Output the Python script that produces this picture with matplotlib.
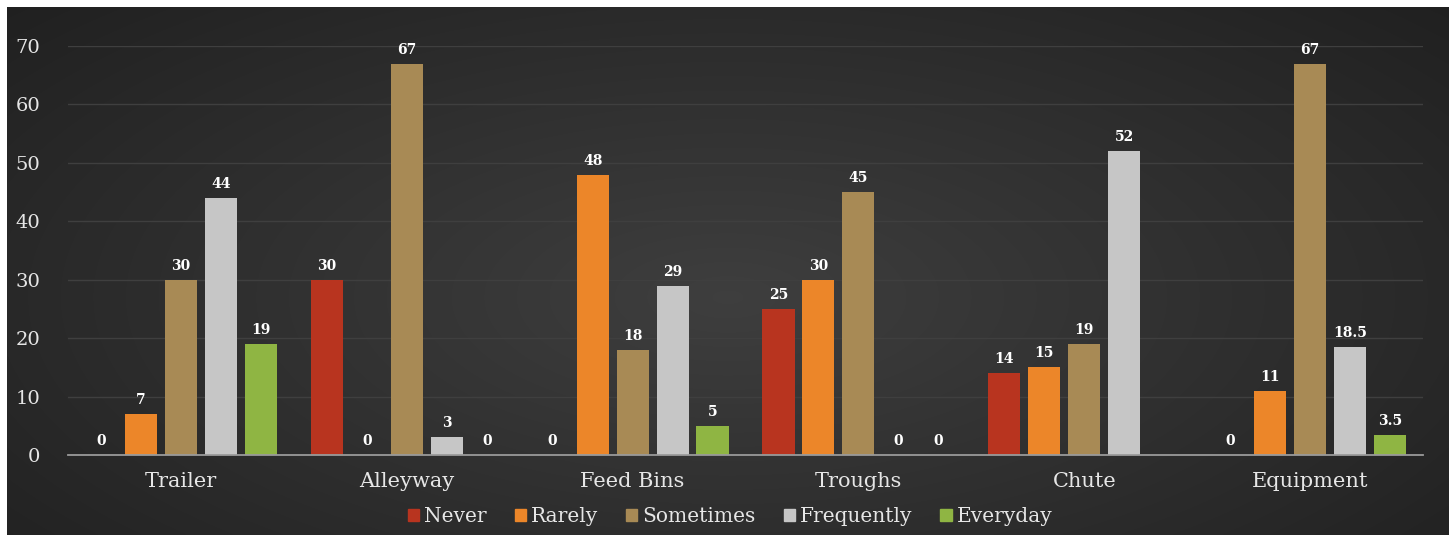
import numpy as np
import matplotlib.pyplot as plt
from matplotlib.patches import Patch

categories = ['Trailer', 'Alleyway', 'Feed Bins', 'Troughs', 'Chute', 'Equipment']
series = ['Never', 'Rarely', 'Sometimes', 'Frequently', 'Everyday']
never = [0, 30, 0, 25, 14, 0]
rarely = [7, 0, 48, 30, 15, 11]
sometimes = [30, 67, 18, 45, 19, 67]
frequently = [44, 3, 29, 0, 52, 18.5]
everyday = [19, 0, 5, 0, np.nan, 3.5]
colors = ['#b8341f', '#ec8629', '#a88a55', '#c6c6c6', '#8fb543']

values = [never, rarely, sometimes, frequently, everyday]

fig = plt.figure(figsize=(14.49, 5.35), dpi=100)
fig.patch.set_facecolor('white')

# dark radial background
bg = fig.add_axes([7/1449, 0, 1 - 7/1449, 1 - 7/535])
yy, xx = np.mgrid[0:1:300j, 0:1:800j]
r = np.sqrt(((xx - 0.5) / 0.75) ** 2 + ((yy - 0.55) / 0.9) ** 2)
shade = np.clip(0.245 - 0.13 * r, 0.11, 0.245)
img = np.dstack([shade, shade, shade])
bg.imshow(img, aspect='auto', extent=[0, 1, 0, 1], interpolation='bilinear')
bg.set_axis_off()

ax = fig.add_axes([68/1449, 80/535, 1355/1449, 409/535])
ax.set_facecolor('none')

font = 'DejaVu Serif'
x = np.arange(len(categories))
step = 0.177
width = 0.142
for i, (name, vals, c) in enumerate(zip(series, values, colors)):
    pos = x + (i - 2) * step
    ax.bar(pos, vals, width=width, color=c, label=name, zorder=3)
    for px, v in zip(pos, vals):
        if np.isnan(v):
            continue
        ax.text(px, v + 1.2, f'{v:g}', ha='center', va='bottom', color='white',
                fontsize=10, fontweight='bold', family=font, zorder=4, clip_on=False)

ax.set_xlim(-0.5, 5.5)
ax.set_ylim(0, 70)
ax.set_yticks(range(0, 71, 10))
ax.yaxis.grid(True, color='#3f3f3f', lw=1, zorder=0)
ax.set_xticks(x)
ax.set_xticklabels(categories)
for s in ['top', 'right', 'left']:
    ax.spines[s].set_visible(False)
ax.spines['bottom'].set_color('#9a9a9a')
ax.spines['bottom'].set_linewidth(1.3)
ax.spines['bottom'].set_zorder(5)
ax.tick_params(axis='both', length=0, colors='#e6e6e6')
ax.tick_params(axis='y', pad=20, labelsize=14)
ax.tick_params(axis='x', pad=12, labelsize=15)
for lab in ax.get_xticklabels() + ax.get_yticklabels():
    lab.set_family(font)

handles = [Patch(color=c, label=s) for s, c in zip(series, colors)]
leg = fig.legend(handles=handles, loc='center', bbox_to_anchor=(730/1449, 1 - 517/535),
                 ncol=5, frameon=False, handlelength=0.55, handleheight=0.55,
                 handletextpad=0.25, columnspacing=1.4,
                 prop={'family': font, 'size': 14.5})
for t in leg.get_texts():
    t.set_color('#e6e6e6')

plt.savefig('out.png', dpi=100)
